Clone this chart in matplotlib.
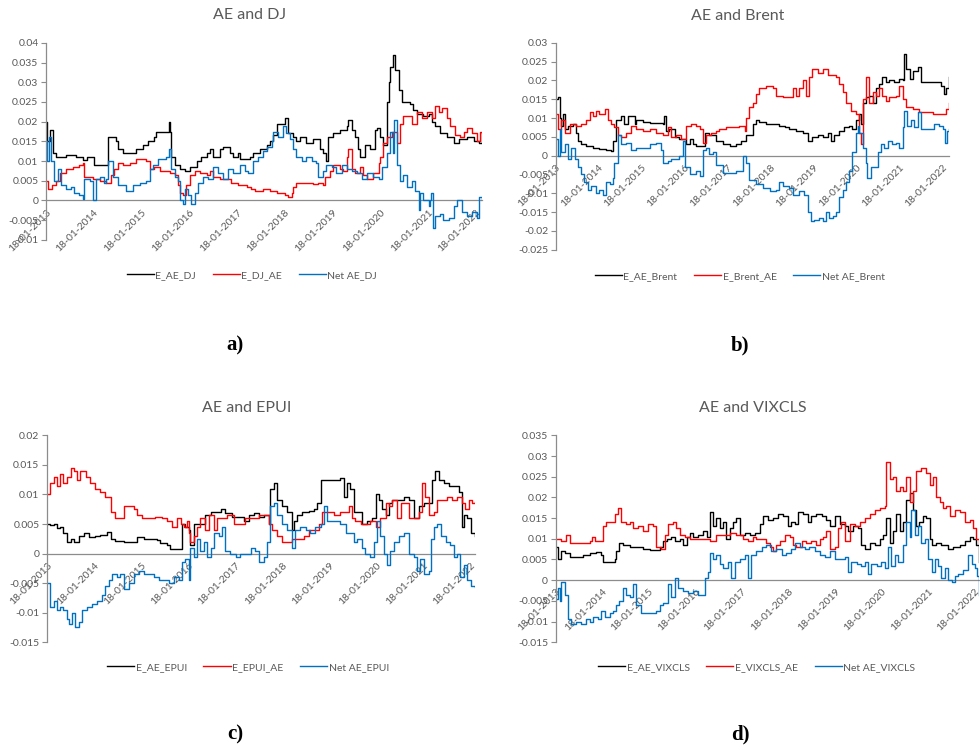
import matplotlib
matplotlib.use('Agg')
import matplotlib.pyplot as plt
from matplotlib.ticker import FuncFormatter, MultipleLocator

plt.rcParams['font.family'] = ['Lato', 'DejaVu Sans']

years = list(range(2013, 2023))
xlabels = ['18-01-%d' % y for y in years]

# ---------- a) AE and DJ ----------
a_black_t = [2013.00, 2013.03, 2013.08, 2013.15, 2013.21, 2013.42, 2013.63, 2013.77, 2013.85, 2014.01,
             2014.26, 2014.29, 2014.47, 2014.50, 2014.61, 2014.89, 2015.03, 2015.13, 2015.27, 2015.31,
             2015.57, 2015.60, 2015.62, 2015.69, 2015.80, 2015.90, 2016.02, 2016.15, 2016.25, 2016.36,
             2016.43, 2016.50, 2016.64, 2016.71, 2016.85, 2016.92, 2017.02, 2017.06, 2017.27, 2017.34,
             2017.48, 2017.62, 2017.69, 2017.76, 2017.83, 2018.00, 2018.07, 2018.17, 2018.24, 2018.31,
             2018.45, 2018.59, 2018.73, 2018.80, 2018.87, 2018.91, 2019.01, 2019.15, 2019.29, 2019.33,
             2019.40, 2019.47, 2019.54, 2019.57, 2019.68, 2019.78, 2019.89, 2019.92, 2019.99, 2020.06,
             2020.13, 2020.17, 2020.20, 2020.27, 2020.31, 2020.38, 2020.45, 2020.62, 2020.69, 2020.76,
             2020.90, 2021.01, 2021.08, 2021.15, 2021.25, 2021.39, 2021.53, 2021.64, 2021.81, 2021.95,
             2022.06, 2022.13]
a_black_v = [0.020, 0.015, 0.018, 0.012, 0.011, 0.0115, 0.011, 0.0104, 0.011, 0.009,
             0.009, 0.0162, 0.015, 0.013, 0.012, 0.013, 0.014, 0.015, 0.016, 0.0175,
             0.020, 0.0175, 0.011, 0.009, 0.008, 0.0075, 0.0085, 0.010, 0.011, 0.012,
             0.013, 0.011, 0.013, 0.0135, 0.012, 0.011, 0.012, 0.0105, 0.011, 0.012,
             0.013, 0.014, 0.015, 0.0165, 0.0195, 0.021, 0.017, 0.016, 0.015, 0.016,
             0.0145, 0.0155, 0.013, 0.012, 0.010, 0.016, 0.017, 0.018, 0.019, 0.0205,
             0.018, 0.016, 0.013, 0.011, 0.014, 0.013, 0.018, 0.0185, 0.016, 0.014,
             0.025, 0.030, 0.034, 0.037, 0.033, 0.028, 0.025, 0.0245, 0.023, 0.022,
             0.0215, 0.022, 0.020, 0.019, 0.017, 0.016, 0.0145, 0.0155, 0.016, 0.015,
             0.0145, 0.017]

a_red_t = [2013.00, 2013.05, 2013.12, 2013.20, 2013.30, 2013.42, 2013.56, 2013.70, 2013.77, 2013.80,
           2013.98, 2014.12, 2014.26, 2014.36, 2014.43, 2014.50, 2014.61, 2014.75, 2014.89, 2015.10,
           2015.17, 2015.27, 2015.38, 2015.59, 2015.69, 2015.76, 2015.80, 2015.87, 2015.94, 2016.01,
           2016.11, 2016.22, 2016.36, 2016.43, 2016.50, 2016.64, 2016.88, 2017.02, 2017.20, 2017.30,
           2017.37, 2017.55, 2017.69, 2017.83, 2018.00, 2018.07, 2018.14, 2018.17, 2018.24, 2018.59,
           2018.70, 2018.80, 2018.84, 2018.94, 2019.01, 2019.15, 2019.22, 2019.29, 2019.33, 2019.40,
           2019.47, 2019.57, 2019.64, 2019.71, 2019.85, 2019.96, 2019.99, 2020.06, 2020.13, 2020.24,
           2020.34, 2020.41, 2020.48, 2020.66, 2020.76, 2020.87, 2020.97, 2021.08, 2021.15, 2021.22,
           2021.29, 2021.39, 2021.46, 2021.57, 2021.67, 2021.74, 2021.81, 2021.92, 2022.02, 2022.09,
           2022.13]
a_red_v = [0.005, 0.003, 0.004, 0.005, 0.007, 0.008, 0.0085, 0.009, 0.0095, 0.006,
           0.0055, 0.005, 0.0045, 0.0065, 0.008, 0.0095, 0.009, 0.0095, 0.0105, 0.010,
           0.008, 0.0085, 0.0075, 0.007, 0.0065, 0.004, 0.002, 0.0015, 0.004, 0.0065,
           0.0075, 0.007, 0.0065, 0.0075, 0.006, 0.0055, 0.0045, 0.004, 0.0035, 0.003,
           0.0025, 0.0028, 0.0025, 0.002, 0.0015, 0.001, 0.002, 0.0035, 0.0045, 0.0042,
           0.0045, 0.004, 0.006, 0.0075, 0.009, 0.008, 0.0075, 0.011, 0.013, 0.008,
           0.007, 0.0085, 0.0065, 0.0055, 0.007, 0.0095, 0.011, 0.0145, 0.016, 0.0175,
           0.0145, 0.0195, 0.0215, 0.0195, 0.0225, 0.021, 0.0225, 0.021, 0.024, 0.0225,
           0.0235, 0.021, 0.019, 0.0165, 0.016, 0.0175, 0.0185, 0.017, 0.015, 0.0175,
           0.017]

a_blue_t = [2013.00, 2013.03, 2013.06, 2013.10, 2013.17, 2013.24, 2013.31, 2013.42, 2013.52, 2013.59,
            2013.70, 2013.77, 2013.80, 2013.91, 2013.99, 2014.05, 2014.12, 2014.22, 2014.26, 2014.29,
            2014.40, 2014.50, 2014.68, 2014.82, 2014.96, 2015.10, 2015.17, 2015.24, 2015.34, 2015.52,
            2015.57, 2015.62, 2015.69, 2015.76, 2015.80, 2015.87, 2015.90, 2015.97, 2016.04, 2016.11,
            2016.18, 2016.29, 2016.39, 2016.50, 2016.60, 2016.71, 2016.81, 2016.92, 2017.06, 2017.16,
            2017.23, 2017.34, 2017.44, 2017.55, 2017.62, 2017.72, 2017.76, 2017.86, 2017.97, 2018.03,
            2018.10, 2018.17, 2018.24, 2018.35, 2018.45, 2018.56, 2018.66, 2018.70, 2018.80, 2018.87,
            2018.98, 2019.08, 2019.19, 2019.29, 2019.40, 2019.50, 2019.61, 2019.71, 2019.85, 2019.96,
            2020.03, 2020.13, 2020.20, 2020.26, 2020.29, 2020.34, 2020.41, 2020.48, 2020.55, 2020.66,
            2020.73, 2020.80, 2020.83, 2020.90, 2021.01, 2021.04, 2021.06, 2021.10, 2021.15, 2021.25,
            2021.32, 2021.43, 2021.53, 2021.60, 2021.71, 2021.81, 2021.92, 2022.02, 2022.06, 2022.13]
a_blue_v = [0.015, 0.010, 0.016, 0.010, 0.005, 0.008, 0.004, 0.003, 0.0035, 0.002,
            0.0015, 0.0005, 0.0055, 0.005, 0.0, 0.0055, 0.006, 0.0045, 0.0055, 0.010,
            0.006, 0.004, 0.0025, 0.004, 0.0045, 0.005, 0.008, 0.009, 0.0105, 0.011,
            0.013, 0.008, 0.006, 0.005, 0.0, -0.001, 0.003, 0.0015, -0.001, 0.002,
            0.0045, 0.006, 0.0055, 0.0085, 0.007, 0.0055, 0.008, 0.007, 0.009, 0.0075,
            0.007, 0.010, 0.011, 0.0125, 0.0135, 0.015, 0.0175, 0.016, 0.019, 0.017,
            0.0155, 0.013, 0.011, 0.010, 0.011, 0.010, 0.0095, 0.006, 0.0075, 0.009,
            0.0085, 0.007, 0.009, 0.008, 0.0075, 0.007, 0.0055, 0.007, 0.006, 0.0055,
            0.0085, 0.012, 0.0175, 0.012, 0.0205, 0.009, 0.005, 0.0065, 0.0035, 0.005,
            0.0025, -0.0025, 0.002, 0.0, -0.0015, 0.0, 0.002, -0.007, -0.004, -0.0035,
            -0.005, -0.0045, -0.0015, 0.0, -0.003, -0.004, -0.003, -0.0045, 0.001, 0.0]

# ---------- b) AE and Brent ----------
b_black_t = [2013.00, 2013.05, 2013.09, 2013.13, 2013.17, 2013.21, 2013.29, 2013.40, 2013.47, 2013.52,
             2013.60, 2013.71, 2013.87, 2014.02, 2014.18, 2014.29, 2014.33, 2014.41, 2014.53, 2014.60,
             2014.68, 2014.76, 2014.84, 2014.88, 2015.03, 2015.19, 2015.34, 2015.50, 2015.53, 2015.57,
             2015.65, 2015.77, 2015.88, 2016.00, 2016.04, 2016.12, 2016.19, 2016.27, 2016.39, 2016.47,
             2016.58, 2016.74, 2016.89, 2017.05, 2017.20, 2017.32, 2017.43, 2017.59, 2017.67, 2017.74,
             2017.90, 2018.05, 2018.21, 2018.33, 2018.44, 2018.60, 2018.75, 2018.87, 2018.98, 2019.10,
             2019.22, 2019.33, 2019.41, 2019.49, 2019.60, 2019.72, 2019.84, 2019.91, 2019.99, 2020.07,
             2020.11, 2020.15, 2020.22, 2020.30, 2020.38, 2020.46, 2020.53, 2020.61, 2020.69, 2020.77,
             2020.88, 2021.00, 2021.08, 2021.12, 2021.16, 2021.24, 2021.31, 2021.43, 2021.50, 2021.70,
             2021.85, 2021.97, 2022.05, 2022.09, 2022.15]
b_black_v = [0.015, 0.0155, 0.010, 0.008, 0.011, 0.007, 0.008, 0.0085, 0.006, 0.004,
             0.003, 0.0025, 0.002, 0.0018, 0.0015, 0.0013, 0.004, 0.0095, 0.0105, 0.0085,
             0.0105, 0.0105, 0.0085, 0.0095, 0.009, 0.0088, 0.0087, 0.0085, 0.0105, 0.0065,
             0.007, 0.005, 0.0045, 0.0045, 0.003, 0.0045, 0.003, 0.0025, 0.0025, 0.006,
             0.0055, 0.004, 0.003, 0.0027, 0.003, 0.004, 0.0055, 0.0085, 0.0095, 0.009,
             0.0085, 0.0085, 0.008, 0.0075, 0.007, 0.0065, 0.006, 0.004, 0.005, 0.0055,
             0.005, 0.006, 0.004, 0.0055, 0.0065, 0.0075, 0.008, 0.007, 0.0095, 0.011,
             0.0085, 0.014, 0.0155, 0.016, 0.014, 0.018, 0.019, 0.021, 0.0195, 0.020,
             0.0195, 0.0205, 0.020, 0.027, 0.023, 0.0205, 0.0225, 0.0235, 0.0195, 0.0195,
             0.0195, 0.0185, 0.0165, 0.018, 0.021]

b_red_t = [2013.00, 2013.05, 2013.13, 2013.21, 2013.33, 2013.48, 2013.60, 2013.71, 2013.79, 2013.87,
           2013.95, 2014.02, 2014.14, 2014.22, 2014.29, 2014.37, 2014.45, 2014.53, 2014.64, 2014.76,
           2014.88, 2015.03, 2015.19, 2015.34, 2015.50, 2015.61, 2015.69, 2015.81, 2015.92, 2016.04,
           2016.16, 2016.27, 2016.35, 2016.43, 2016.50, 2016.62, 2016.74, 2016.81, 2016.97, 2017.28,
           2017.40, 2017.43, 2017.51, 2017.59, 2017.67, 2017.74, 2017.90, 2018.05, 2018.13, 2018.29,
           2018.44, 2018.52, 2018.60, 2018.67, 2018.75, 2018.83, 2018.91, 2018.98, 2019.10, 2019.22,
           2019.33, 2019.53, 2019.60, 2019.68, 2019.76, 2019.88, 2019.99, 2020.07, 2020.11, 2020.15,
           2020.22, 2020.30, 2020.38, 2020.46, 2020.53, 2020.61, 2020.69, 2020.77, 2020.92, 2021.00,
           2021.08, 2021.16, 2021.31, 2021.47, 2021.78, 2022.05, 2022.09, 2022.15]
b_red_v = [0.011, 0.007, 0.0095, 0.006, 0.0085, 0.008, 0.0085, 0.0095, 0.0115, 0.0105,
           0.012, 0.011, 0.0125, 0.0095, 0.0085, 0.0075, 0.0055, 0.005, 0.006, 0.008,
           0.007, 0.0065, 0.007, 0.006, 0.0055, 0.0075, 0.005, 0.0055, 0.0045, 0.008,
           0.0085, 0.008, 0.007, 0.0035, 0.0055, 0.006, 0.0065, 0.007, 0.0075, 0.008,
           0.0065, 0.010, 0.013, 0.014, 0.0165, 0.018, 0.0185, 0.018, 0.016, 0.0155,
           0.0155, 0.018, 0.016, 0.018, 0.020, 0.016, 0.021, 0.023, 0.022, 0.023,
           0.0215, 0.021, 0.019, 0.017, 0.014, 0.012, 0.011, 0.006, 0.003, 0.015,
           0.021, 0.014, 0.017, 0.016, 0.018, 0.016, 0.0145, 0.0155, 0.016, 0.0185,
           0.015, 0.013, 0.0125, 0.0115, 0.011, 0.011, 0.0125, 0.014]

b_blue_t = [2013.00, 2013.05, 2013.09, 2013.13, 2013.21, 2013.29, 2013.36, 2013.44, 2013.52, 2013.60,
            2013.67, 2013.75, 2013.83, 2013.95, 2014.02, 2014.10, 2014.18, 2014.26, 2014.33, 2014.37,
            2014.45, 2014.53, 2014.64, 2014.76, 2014.88, 2015.19, 2015.34, 2015.46, 2015.50, 2015.61,
            2015.69, 2015.88, 2015.96, 2016.00, 2016.12, 2016.27, 2016.35, 2016.43, 2016.50, 2016.58,
            2016.66, 2016.74, 2016.89, 2017.20, 2017.36, 2017.43, 2017.51, 2017.67, 2017.82, 2017.98,
            2018.13, 2018.21, 2018.29, 2018.44, 2018.52, 2018.67, 2018.79, 2018.87, 2018.95, 2019.02,
            2019.14, 2019.22, 2019.29, 2019.37, 2019.45, 2019.53, 2019.60, 2019.68, 2019.76, 2019.84,
            2019.91, 2019.99, 2020.03, 2020.07, 2020.15, 2020.22, 2020.26, 2020.34, 2020.42, 2020.50,
            2020.57, 2020.65, 2020.73, 2020.84, 2020.92, 2021.00, 2021.08, 2021.12, 2021.19, 2021.27,
            2021.35, 2021.43, 2021.50, 2021.70, 2021.81, 2021.93, 2022.01, 2022.07, 2022.11, 2022.15]
b_blue_v = [0.0045, 0.0, 0.007, 0.001, 0.003, -0.001, 0.002, -0.001, -0.003, -0.005,
            -0.007, -0.009, -0.008, -0.010, -0.009, -0.0105, -0.007, -0.0075, -0.006, -0.002,
            0.0055, 0.003, 0.0035, 0.0015, 0.002, 0.003, 0.0035, 0.0015, -0.002, -0.0015,
            -0.001, 0.0, 0.004, -0.003, -0.005, -0.004, -0.0055, 0.0015, 0.002, 0.0005,
            0.001, -0.0025, -0.0045, -0.004, 0.0, -0.002, -0.0065, -0.0075, -0.0085, -0.0095,
            -0.009, -0.007, -0.008, -0.0085, -0.0105, -0.0095, -0.0105, -0.015, -0.0175, -0.017,
            -0.0165, -0.0175, -0.015, -0.0165, -0.016, -0.015, -0.011, -0.009, -0.007, -0.004,
            0.001, 0.006, 0.008, 0.006, 0.002, -0.002, -0.006, -0.003, -0.003, 0.001,
            0.003, 0.002, 0.004, 0.003, 0.0035, 0.002, 0.0075, 0.012, 0.008, 0.0095,
            0.0075, 0.0115, 0.007, 0.007, 0.0085, 0.008, 0.007, 0.0035, 0.0065, 0.007]

# ---------- c) AE and EPUI ----------
c_black_t = [2013.00, 2013.07, 2013.14, 2013.21, 2013.28, 2013.35, 2013.43, 2013.50, 2013.57, 2013.67,
             2013.78, 2013.89, 2014.03, 2014.13, 2014.28, 2014.35, 2014.45, 2014.63, 2014.84, 2014.91,
             2015.06, 2015.20, 2015.34, 2015.41, 2015.55, 2015.62, 2015.84, 2015.87, 2015.94, 2016.01,
             2016.05, 2016.12, 2016.26, 2016.37, 2016.48, 2016.58, 2016.69, 2016.79, 2016.94, 2017.08,
             2017.18, 2017.29, 2017.40, 2017.50, 2017.61, 2017.72, 2017.75, 2017.82, 2017.89, 2018.00,
             2018.11, 2018.21, 2018.25, 2018.32, 2018.43, 2018.57, 2018.67, 2018.74, 2018.82, 2019.24,
             2019.31, 2019.38, 2019.45, 2019.52, 2019.63, 2019.70, 2019.81, 2019.91, 2019.99, 2020.06,
             2020.13, 2020.20, 2020.27, 2020.34, 2020.59, 2020.70, 2020.80, 2020.91, 2021.01, 2021.12,
             2021.19, 2021.26, 2021.33, 2021.44, 2021.55, 2021.65, 2021.76, 2021.83, 2021.87, 2021.94,
             2022.01, 2022.11]
c_black_v = [0.005, 0.0048, 0.005, 0.0043, 0.0045, 0.0035, 0.002, 0.0025, 0.002, 0.003,
             0.0035, 0.0028, 0.003, 0.0032, 0.0036, 0.0025, 0.0022, 0.002, 0.002, 0.0028,
             0.0025, 0.0024, 0.0023, 0.0018, 0.0015, 0.0008, 0.0007, 0.005, 0.0045, 0.004,
             0.0015, 0.005, 0.005, 0.0065, 0.007, 0.007, 0.0075, 0.0068, 0.0062, 0.0062,
             0.0055, 0.0065, 0.0068, 0.0062, 0.0065, 0.005, 0.011, 0.012, 0.009, 0.008,
             0.007, 0.004, 0.0055, 0.0065, 0.007, 0.0072, 0.0075, 0.0085, 0.0125, 0.0128,
             0.0095, 0.012, 0.011, 0.007, 0.007, 0.005, 0.0055, 0.006, 0.010, 0.009,
             0.0075, 0.0065, 0.0085, 0.009, 0.0095, 0.009, 0.006, 0.008, 0.0085, 0.0085,
             0.0125, 0.014, 0.0125, 0.012, 0.0115, 0.0115, 0.0105, 0.0045, 0.0065, 0.006,
             0.0035, 0.003]

c_red_t = [2013.00, 2013.07, 2013.14, 2013.21, 2013.28, 2013.35, 2013.43, 2013.50, 2013.57, 2013.64,
           2013.71, 2013.82, 2013.92, 2014.03, 2014.13, 2014.24, 2014.35, 2014.45, 2014.56, 2014.63,
           2014.84, 2014.91, 2015.02, 2015.30, 2015.45, 2015.55, 2015.66, 2015.77, 2015.84, 2015.91,
           2015.98, 2016.01, 2016.05, 2016.12, 2016.19, 2016.26, 2016.37, 2016.44, 2016.55, 2016.62,
           2016.83, 2016.97, 2017.22, 2017.50, 2017.72, 2017.79, 2017.89, 2018.00, 2018.21, 2018.46,
           2018.57, 2018.78, 2018.85, 2019.10, 2019.24, 2019.42, 2019.49, 2019.56, 2019.67, 2019.88,
           2019.99, 2020.09, 2020.20, 2020.27, 2020.34, 2020.45, 2020.52, 2020.70, 2020.91, 2020.98,
           2021.05, 2021.12, 2021.23, 2021.30, 2021.51, 2021.62, 2021.72, 2021.83, 2021.90, 2021.97,
           2022.04, 2022.11]
c_red_v = [0.010, 0.012, 0.013, 0.0115, 0.0135, 0.012, 0.013, 0.0145, 0.014, 0.0125,
           0.014, 0.013, 0.012, 0.011, 0.0105, 0.0095, 0.007, 0.006, 0.006, 0.008,
           0.0075, 0.0065, 0.006, 0.0062, 0.006, 0.0055, 0.0045, 0.006, 0.005, 0.0045,
           0.0055, 0.0035, 0.002, 0.003, 0.0045, 0.006, 0.004, 0.0065, 0.004, 0.006,
           0.0065, 0.005, 0.006, 0.0065, 0.005, 0.004, 0.003, 0.002, 0.0025, 0.003,
           0.004, 0.005, 0.007, 0.0065, 0.007, 0.008, 0.006, 0.0055, 0.005, 0.0055,
           0.0045, 0.006, 0.0085, 0.008, 0.009, 0.006, 0.0085, 0.006, 0.007, 0.012,
           0.0095, 0.0065, 0.007, 0.009, 0.0095, 0.009, 0.0095, 0.0085, 0.0075, 0.009,
           0.0085, 0.0088]

c_blue_t = [2013.00, 2013.07, 2013.14, 2013.21, 2013.28, 2013.35, 2013.43, 2013.46, 2013.53, 2013.60,
            2013.67, 2013.74, 2013.85, 2013.96, 2014.06, 2014.17, 2014.24, 2014.31, 2014.38, 2014.49,
            2014.56, 2014.63, 2014.74, 2014.84, 2014.95, 2015.06, 2015.27, 2015.38, 2015.59, 2015.70,
            2015.80, 2015.87, 2015.94, 2016.01, 2016.05, 2016.12, 2016.19, 2016.26, 2016.33, 2016.40,
            2016.48, 2016.55, 2016.65, 2016.72, 2016.79, 2016.90, 2017.01, 2017.11, 2017.33, 2017.43,
            2017.50, 2017.61, 2017.68, 2017.75, 2017.82, 2017.89, 2018.00, 2018.11, 2018.21, 2018.28,
            2018.39, 2018.50, 2018.60, 2018.71, 2018.82, 2018.89, 2018.96, 2019.24, 2019.35, 2019.45,
            2019.52, 2019.60, 2019.70, 2019.77, 2019.88, 2019.95, 2020.02, 2020.09, 2020.16, 2020.23,
            2020.30, 2020.38, 2020.48, 2020.59, 2020.70, 2020.80, 2020.87, 2020.94, 2021.01, 2021.12,
            2021.16, 2021.23, 2021.30, 2021.37, 2021.48, 2021.58, 2021.65, 2021.72, 2021.79, 2021.87,
            2021.94, 2022.01, 2022.11]
c_blue_v = [-0.005, -0.009, -0.008, -0.0095, -0.009, -0.0095, -0.011, -0.012, -0.010, -0.0125,
            -0.0115, -0.0095, -0.009, -0.0085, -0.008, -0.007, -0.0055, -0.0045, -0.0035, -0.004,
            -0.0035, -0.006, -0.005, -0.0035, -0.003, -0.0035, -0.004, -0.0045, -0.005, -0.004,
            -0.0045, -0.0015, -0.001, -0.0045, 0.001, -0.0005, 0.0025, 0.0005, 0.002, -0.0005,
            0.001, 0.0035, 0.003, 0.0045, 0.0005, 0.0, -0.0005, 0.0, 0.001, 0.0005,
            -0.0015, -0.0005, 0.002, 0.008, 0.0085, 0.0065, 0.005, 0.004, 0.001, 0.004,
            0.0045, 0.004, 0.0035, 0.0045, 0.005, 0.008, 0.0055, 0.005, 0.0035, 0.0035,
            0.002, 0.0025, 0.001, 0.0, -0.0005, 0.002, 0.0055, 0.003, 0.0, -0.002,
            0.0005, 0.002, 0.003, 0.0035, 0.0, -0.0005, -0.003, -0.001, -0.0035, -0.003,
            0.0025, 0.0045, 0.005, 0.003, 0.002, 0.0015, -0.0005, 0.0, -0.004, -0.002,
            -0.0045, -0.0055, -0.0057]

# ---------- d) AE and VIXCLS ----------
d_black_t = [2013.00, 2013.05, 2013.12, 2013.19, 2013.30, 2013.59, 2013.73, 2013.87, 2013.98, 2014.02,
             2014.27, 2014.30, 2014.37, 2014.45, 2014.59, 2014.88, 2015.02, 2015.16, 2015.23, 2015.30,
             2015.38, 2015.48, 2015.56, 2015.66, 2015.73, 2015.81, 2015.88, 2015.95, 2016.06, 2016.16,
             2016.24, 2016.31, 2016.38, 2016.45, 2016.52, 2016.59, 2016.66, 2016.74, 2016.81, 2016.88,
             2016.95, 2017.06, 2017.17, 2017.27, 2017.38, 2017.45, 2017.56, 2017.67, 2017.77, 2017.88,
             2017.99, 2018.06, 2018.13, 2018.20, 2018.31, 2018.42, 2018.49, 2018.60, 2018.71, 2018.81,
             2018.88, 2018.99, 2019.10, 2019.21, 2019.28, 2019.39, 2019.49, 2019.56, 2019.64, 2019.74,
             2019.85, 2019.96, 2020.03, 2020.10, 2020.17, 2020.24, 2020.31, 2020.39, 2020.46, 2020.53,
             2020.60, 2020.67, 2020.74, 2020.81, 2020.89, 2020.96, 2021.03, 2021.07, 2021.17, 2021.28,
             2021.42, 2021.53, 2021.68, 2021.78, 2021.89, 2021.96, 2022.03, 2022.09]
d_black_v = [0.008, 0.005, 0.007, 0.0065, 0.0055, 0.0062, 0.0065, 0.0068, 0.006, 0.0045,
             0.005, 0.007, 0.009, 0.0085, 0.008, 0.0075, 0.0072, 0.0073, 0.008, 0.0095,
             0.010, 0.0105, 0.0095, 0.010, 0.0085, 0.0105, 0.0115, 0.0105, 0.011, 0.012,
             0.0105, 0.0165, 0.013, 0.015, 0.0125, 0.014, 0.010, 0.0125, 0.014, 0.015,
             0.011, 0.0115, 0.011, 0.0115, 0.0135, 0.0155, 0.0145, 0.015, 0.016, 0.0155,
             0.013, 0.014, 0.0135, 0.0165, 0.016, 0.014, 0.0155, 0.016, 0.0155, 0.0145,
             0.013, 0.0155, 0.0135, 0.013, 0.012, 0.013, 0.0125, 0.0085, 0.0075, 0.009,
             0.0085, 0.010, 0.011, 0.015, 0.009, 0.012, 0.016, 0.012, 0.014, 0.0195,
             0.021, 0.017, 0.013, 0.014, 0.0155, 0.015, 0.010, 0.0085, 0.009, 0.0085,
             0.0075, 0.008, 0.0085, 0.0095, 0.0105, 0.010, 0.0085, 0.0045]

d_red_t = [2013.00, 2013.12, 2013.23, 2013.30, 2013.73, 2013.77, 2013.84, 2014.02, 2014.09, 2014.27,
           2014.34, 2014.41, 2014.52, 2014.59, 2014.66, 2014.77, 2014.88, 2014.98, 2015.09, 2015.16,
           2015.27, 2015.34, 2015.41, 2015.52, 2015.59, 2015.66, 2015.77, 2015.88, 2016.31, 2016.45,
           2016.74, 2016.88, 2017.02, 2017.13, 2017.24, 2017.31, 2017.52, 2017.60, 2017.67, 2017.74,
           2017.81, 2017.92, 2018.03, 2018.10, 2018.17, 2018.28, 2018.38, 2018.49, 2018.60, 2018.67,
           2018.74, 2018.81, 2018.88, 2018.99, 2019.06, 2019.13, 2019.21, 2019.31, 2019.42, 2019.53,
           2019.64, 2019.74, 2019.85, 2019.96, 2020.07, 2020.10, 2020.17, 2020.24, 2020.31, 2020.39,
           2020.46, 2020.53, 2020.60, 2020.67, 2020.74, 2020.85, 2020.96, 2021.03, 2021.10, 2021.17,
           2021.25, 2021.32, 2021.39, 2021.46, 2021.57, 2021.68, 2021.78, 2021.89, 2021.96, 2022.02,
           2022.09]
d_red_v = [0.010, 0.0095, 0.011, 0.009, 0.0095, 0.0105, 0.0095, 0.013, 0.014, 0.016,
           0.0175, 0.014, 0.0135, 0.014, 0.0125, 0.013, 0.012, 0.0135, 0.013, 0.008,
           0.0075, 0.011, 0.0135, 0.014, 0.0125, 0.011, 0.0105, 0.010, 0.0095, 0.011,
           0.0115, 0.011, 0.010, 0.0095, 0.0105, 0.010, 0.009, 0.008, 0.007, 0.0085,
           0.0095, 0.011, 0.0105, 0.0085, 0.008, 0.0095, 0.009, 0.0095, 0.0085, 0.010,
           0.0105, 0.012, 0.0075, 0.008, 0.0125, 0.014, 0.0095, 0.0135, 0.013, 0.014,
           0.015, 0.016, 0.017, 0.0175, 0.018, 0.0285, 0.0245, 0.025, 0.0215, 0.0225,
           0.0215, 0.025, 0.019, 0.0215, 0.0265, 0.027, 0.026, 0.023, 0.025, 0.020,
           0.019, 0.0175, 0.018, 0.0155, 0.017, 0.0165, 0.014, 0.0145, 0.0125, 0.010,
           0.009]

d_blue_t = [2013.00, 2013.05, 2013.09, 2013.12, 2013.19, 2013.26, 2013.34, 2013.44, 2013.55, 2013.66,
            2013.73, 2013.80, 2013.91, 2013.98, 2014.05, 2014.16, 2014.23, 2014.30, 2014.37, 2014.45,
            2014.52, 2014.59, 2014.66, 2014.73, 2014.84, 2015.16, 2015.23, 2015.30, 2015.41, 2015.48,
            2015.56, 2015.63, 2015.73, 2015.84, 2015.95, 2016.06, 2016.16, 2016.20, 2016.27, 2016.31,
            2016.38, 2016.45, 2016.52, 2016.59, 2016.70, 2016.77, 2016.84, 2016.95, 2017.06, 2017.13,
            2017.20, 2017.31, 2017.42, 2017.52, 2017.63, 2017.74, 2017.85, 2017.95, 2018.06, 2018.13,
            2018.24, 2018.35, 2018.45, 2018.56, 2018.67, 2018.78, 2018.88, 2018.99, 2019.21, 2019.28,
            2019.35, 2019.46, 2019.56, 2019.64, 2019.71, 2019.78, 2019.89, 2019.99, 2020.07, 2020.14,
            2020.21, 2020.28, 2020.35, 2020.46, 2020.53, 2020.60, 2020.64, 2020.71, 2020.78, 2020.85,
            2020.92, 2020.99, 2021.07, 2021.14, 2021.21, 2021.28, 2021.35, 2021.42, 2021.50, 2021.57,
            2021.64, 2021.75, 2021.85, 2021.93, 2022.00, 2022.05, 2022.09]
d_blue_v = [-0.0045, -0.002, -0.005, -0.0005, -0.0035, -0.0095, -0.0105, -0.010, -0.0105, -0.0095,
            -0.010, -0.009, -0.0095, -0.0075, -0.009, -0.008, -0.0075, -0.006, -0.005, -0.002,
            -0.0035, -0.004, -0.001, -0.006, -0.008, -0.0075, -0.006, -0.0055, -0.001, -0.004,
            0.0005, -0.002, -0.0025, -0.003, -0.0025, -0.0035, -0.0035, 0.0005, 0.002, 0.0065,
            0.005, 0.006, 0.004, 0.003, 0.0045, 0.0005, 0.0045, 0.005, 0.006, 0.0005,
            0.006, 0.007, 0.008, 0.0085, 0.007, 0.0075, 0.006, 0.0065, 0.0075, 0.009,
            0.008, 0.0075, 0.008, 0.007, 0.006, 0.0055, 0.007, 0.005, 0.0055, 0.002,
            0.0045, 0.004, 0.0035, 0.0045, 0.0015, 0.004, 0.0035, 0.0045, 0.003, 0.008,
            0.0035, 0.006, 0.0045, 0.0085, 0.014, 0.0105, 0.017, 0.011, 0.013, 0.009,
            0.010, 0.005, 0.002, 0.005, 0.0035, 0.0005, 0.003, 0.0, -0.0005, 0.001,
            0.0015, 0.0025, 0.006, 0.004, 0.003, 0.001, -0.0035]

BLACK = '#000000'
RED = '#FF0000'
BLUE = '#0070C0'
GREY = '#595959'
AXIS = '#8C8C8C'


def yfmt(v, pos):
    v = round(v, 4)
    if v == 0:
        return '0'
    return '{:g}'.format(v)


fig = plt.figure(figsize=(9.8, 7.52), dpi=100)


def panel(rect, title, title_xy, series, ylim, xmax, legend_xy, tag, tag_xy):
    ax = fig.add_axes(rect)
    for t, v, c, lab in series:
        ax.plot(t, v, color=c, lw=1.0, label=lab, drawstyle='steps-post')
    ax.set_xlim(2013.0, xmax)
    ax.set_ylim(*ylim)
    ax.yaxis.set_major_locator(MultipleLocator(0.005))
    ax.yaxis.set_major_formatter(FuncFormatter(yfmt))
    for s in ['top', 'right']:
        ax.spines[s].set_visible(False)
    ax.spines['left'].set_color(AXIS)
    ax.spines['left'].set_linewidth(0.9)
    # Excel-style horizontal axis crossing at zero
    ax.spines['bottom'].set_position(('data', 0))
    ax.spines['bottom'].set_color(AXIS)
    ax.spines['bottom'].set_linewidth(0.9)
    ax.spines['bottom'].set_zorder(0.5)
    ax.set_xticks(years)
    ax.set_xticklabels(xlabels, rotation=45, ha='right', rotation_mode='anchor')
    ax.tick_params(axis='x', length=0, pad=5, labelsize=7.5, labelcolor=GREY)
    ax.tick_params(axis='y', length=3.5, width=0.8, color=AXIS, pad=2,
                   labelsize=7.5, labelcolor=GREY)
    ax.patch.set_alpha(0)
    fig.text(title_xy[0], title_xy[1], title, ha='center', va='center',
             fontsize=11.5, color=GREY)
    leg = ax.legend(loc='center', bbox_to_anchor=legend_xy, bbox_transform=fig.transFigure,
                    ncol=3, frameon=False, fontsize=7.5, handlelength=2.6,
                    handletextpad=0.15, columnspacing=1.6)
    for txt in leg.get_texts():
        txt.set_color(GREY)
    fig.text(tag_xy[0], tag_xy[1], tag, ha='center', va='center', fontsize=15,
             fontweight='bold', family='Liberation Serif')
    return ax


panel([0.047, 0.681, 0.445, 0.262], 'AE and DJ', (0.255, 0.980),
      [(a_black_t, a_black_v, BLACK, 'E_AE_DJ'),
       (a_red_t, a_red_v, RED, 'E_DJ_AE'),
       (a_blue_t, a_blue_v, BLUE, 'Net AE_DJ')],
      (-0.01, 0.04), 2022.13, (0.257, 0.634), 'a)', (0.240, 0.541))

panel([0.567, 0.668, 0.401, 0.275], 'AE and Brent', (0.753, 0.979),
      [(b_black_t, b_black_v, BLACK, 'E_AE_Brent'),
       (b_red_t, b_red_v, RED, 'E_Brent_AE'),
       (b_blue_t, b_blue_v, BLUE, 'Net AE_Brent')],
      (-0.025, 0.03), 2022.15, (0.755, 0.633), 'b)', (0.755, 0.541))

panel([0.048, 0.146, 0.437, 0.275], 'AE and EPUI', (0.252, 0.457),
      [(c_black_t, c_black_v, BLACK, 'E_AE_EPUI'),
       (c_red_t, c_red_v, RED, 'E_EPUI_AE'),
       (c_blue_t, c_blue_v, BLUE, 'Net AE_EPUI')],
      (-0.015, 0.02), 2022.11, (0.253, 0.113), 'c)', (0.240, 0.023))

panel([0.567, 0.146, 0.432, 0.275], 'AE and VIXCLS', (0.768, 0.457),
      [(d_black_t, d_black_v, BLACK, 'E_AE_VIXCLS'),
       (d_red_t, d_red_v, RED, 'E_VIXCLS_AE'),
       (d_blue_t, d_blue_v, BLUE, 'Net AE_VIXCLS')],
      (-0.015, 0.035), 2022.09, (0.772, 0.113), 'd)', (0.755, 0.023))

fig.savefig('out.png', dpi=100)
